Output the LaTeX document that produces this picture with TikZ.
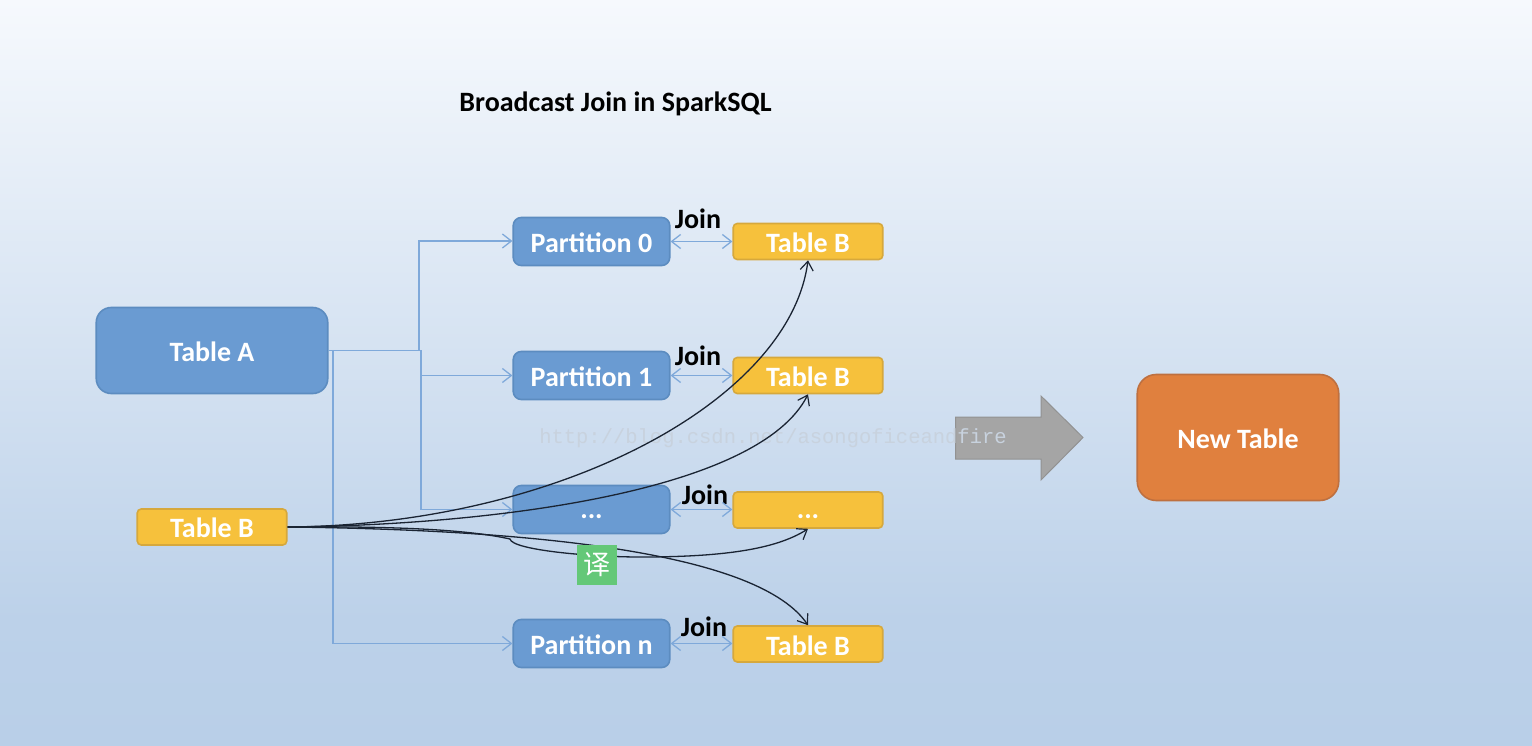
\documentclass[tikz,border=0pt]{standalone}
\usepackage{fontspec}
\setmainfont{Carlito}
\newfontfamily\cjkf{Noto Sans CJK SC}
\newfontfamily\wmf{Liberation Mono}
\usetikzlibrary{arrows.meta}
\definecolor{bgtop}{HTML}{F6F9FD}
\definecolor{bgmid}{HTML}{BCD1E9}
\definecolor{bgbot}{HTML}{B9CFE8}
\definecolor{bluef}{HTML}{6A9BD2}
\definecolor{blueb}{HTML}{5C8CC0}
\definecolor{yelf}{HTML}{F6C13C}
\definecolor{yelb}{HTML}{D6A83C}
\definecolor{oranf}{HTML}{E0803E}
\definecolor{oranb}{HTML}{BE7040}
\definecolor{linkc}{HTML}{7FA9DA}
\definecolor{grayf}{HTML}{A5A5A5}
\definecolor{grayb}{HTML}{929292}
\definecolor{curvec}{HTML}{1A2433}
\definecolor{greenf}{HTML}{64C878}
\definecolor{wmc}{HTML}{C8D2DE}
\newcommand{\lbl}[2]{\rule{0pt}{#1}#2}
\tikzset{
  x=1pt,y=-1pt,
  boxbase/.style={inner sep=0pt,line width=1.6pt,text=white,font=\fontsize{28}{32}\bfseries\selectfont},
  partbox/.style={boxbase,draw=blueb,fill=bluef,rounded corners=8pt,minimum width=156.5pt,minimum height=48pt},
  yelbox/.style={boxbase,draw=yelb,fill=yelf,rounded corners=4pt,minimum width=149.5pt,minimum height=36pt},
  bigbox/.style={boxbase,draw=blueb,fill=bluef,rounded corners=15pt,minimum width=231.5pt,minimum height=86pt},
  newbox/.style={boxbase,draw=oranb,fill=oranf,rounded corners=19pt,minimum width=201.5pt,minimum height=126pt},
  joinlab/.style={inner sep=0pt,text=black,font=\fontsize{28}{32}\bfseries\selectfont},
  titlelab/.style={inner sep=0pt,text=black,font=\fontsize{28}{32}\bfseries\selectfont},
  bluelink/.style={draw=linkc,line width=1.3pt,-{Straight Barb[length=9pt,width=14pt,line width=1.3pt]}},
  bothlink/.style={draw=linkc,line width=1.3pt,{Straight Barb[length=9pt,width=14pt,line width=1.3pt]}-{Straight Barb[length=9pt,width=14pt,line width=1.3pt]}},
  blackcurve/.style={draw=curvec,line width=1.3pt,-{Straight Barb[length=9pt,width=13pt,line width=1.2pt]}},
}
\begin{document}
\begin{tikzpicture}
\useasboundingbox (0,0) rectangle (1532,746);
\fill[top color=bgtop,bottom color=bgmid] (0,0) rectangle (1532,620);
\fill[top color=bgmid,bottom color=bgbot] (0,620) rectangle (1532,746);
\node[titlelab] (title) at (615.5,104) {Broadcast Join in SparkSQL};

\node[bigbox] (tableA) at (212,350.5) {\lbl{22pt}{Table A}};
\node[yelbox] (srcB) at (212,527) {\lbl{22pt}{Table B}};
\node[partbox] (p0) at (591.5,241.5) {\lbl{22pt}{Partition 0}};
\node[partbox] (p1) at (591.5,375.5) {\lbl{22pt}{Partition 1}};
\node[partbox] (p2) at (591.5,509.5) {\lbl{18pt}{...}};
\node[partbox] (pn) at (591.5,643.5) {\lbl{23pt}{Partition n}};
\node[yelbox] (b0) at (808,241.5) {\lbl{23pt}{Table B}};
\node[yelbox] (b1) at (808,375.5) {\lbl{23pt}{Table B}};
\node[yelbox] (b2) at (808,510) {\lbl{18pt}{...}};
\node[yelbox] (bn) at (808,644) {\lbl{23pt}{Table B}};
\node[newbox] (newT) at (1238,437.5) {\lbl{23pt}{New Table}};

\node[joinlab] (j0) at (698,219) {Join};
\node[joinlab] (j1) at (698,355.5) {Join};
\node[joinlab] (j2) at (705,494.5) {Join};
\node[joinlab] (jn) at (704,626.5) {Join};

% Table A to the partitions
\draw[bluelink] (tableA.east) -| (419,241) -- (p0.west |- 419,241);
\draw[bluelink] (tableA.east) -| (421,375.5) -- (p1.west);
\draw[bluelink] (tableA.east) -| (421,509.5) -- (p2.west);
\draw[bluelink] (tableA.east) -| (333,643.5) -- (pn.west);

% joins
\draw[bothlink] (p0.east) -- (b0.west);
\draw[bothlink] (p1.east) -- (b1.west);
\draw[bothlink] (p2.east) -- (b2.west |- p2.east);
\draw[bothlink] (pn.east) -- (bn.west |- pn.east);

% grey arrow
\draw[draw=grayb,fill=grayf,line width=1pt] (955.5,417) -- (1041,417) -- (1041,396) -- (1083,437.5) -- (1041,480) -- (1041,459) -- (955.5,459) -- cycle;

% watermark
\node[inner sep=0pt,text=wmc,font=\wmf\fontsize{20.5}{24}\selectfont] (wm) at (773,438) {http://blog.csdn.net/asongoficeandfire};

% black curves
\draw[blackcurve] (srcB.east) .. controls (560,525) and (790,400) .. (b0.south);
\draw[blackcurve] (srcB.east) .. controls (500,525) and (760,490) .. (b1.south);
\draw[blackcurve] (srcB.east) .. controls (400,526) and (470,530) .. (510,539)
  .. controls (512,550) and (590,557) .. (640,557)
  .. controls (720,557) and (775,550) .. (b2.south);
\draw[blackcurve] (srcB.east) .. controls (550,530) and (760,555) .. (bn.north);

% translate badge
\node[fill=greenf,text=white,inner sep=0pt,minimum width=40pt,minimum height=40pt,font=\cjkf\fontsize{27}{30}\selectfont] (badge) at (597,565) {译};
\end{tikzpicture}
\end{document}
